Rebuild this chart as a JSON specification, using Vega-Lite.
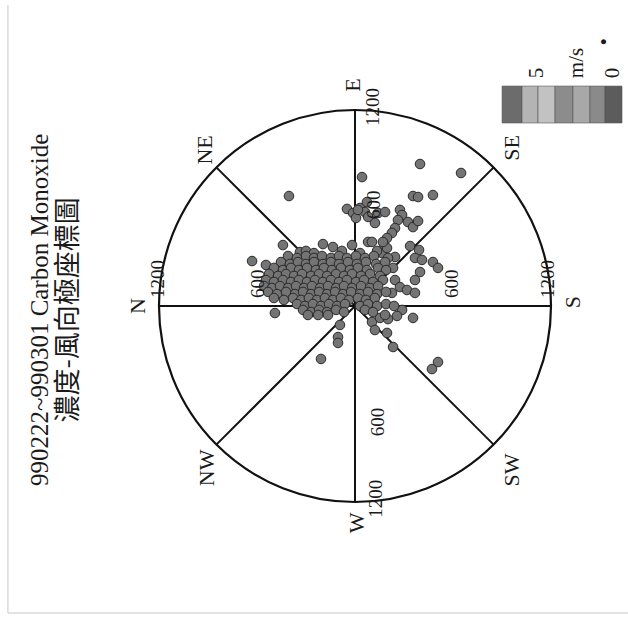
{
  "$schema": "https://vega.github.io/schema/vega-lite/v6.json",
  "width": 628,
  "height": 625,
  "autosize": {"type": "none"},
  "padding": 0,
  "background": "white",
  "config": {"view": {"stroke": null}},
  "encoding": {
    "x": {"field": "s", "type": "quantitative", "axis": null, "scale": {"domain": [-2172.6, 1670.8], "nice": false, "zero": false}},
    "y": {"field": "e", "type": "quantitative", "axis": null, "scale": {"domain": [-1952.3, 1872.7], "nice": false, "zero": false}}
  },
  "layer": [
    {
      "data": {"values": [
        {"line": "left", "s": -2124, "e": 1842, "s2": -2124, "e2": -1879},
        {"line": "bottom", "s": -2124, "e": -1879, "s2": 1671, "e2": -1879}
      ]},
      "mark": {"type": "rule", "stroke": "#c8c8c8", "strokeWidth": 1},
      "encoding": {"x2": {"field": "s2"}, "y2": {"field": "e2"}}
    },
    {
      "data": {"values": [
        {"spoke": "N-S", "s": -1200, "e": 0, "s2": 1200, "e2": 0},
        {"spoke": "E-W", "s": 0, "e": 1200, "s2": 0, "e2": -1200},
        {"spoke": "NE-SW", "s": -848.5, "e": 848.5, "s2": 848.5, "e2": -848.5},
        {"spoke": "SE-NW", "s": 848.5, "e": 848.5, "s2": -848.5, "e2": -848.5}
      ]},
      "mark": {"type": "rule", "stroke": "#111", "strokeWidth": 2},
      "encoding": {"x2": {"field": "s2"}, "y2": {"field": "e2"}}
    },
    {
      "data": {"values": [{"ring": 1200, "s": 0, "e": 0}]},
      "mark": {"type": "point", "shape": "circle", "filled": false, "size": 153664, "stroke": "#111", "strokeWidth": 2.2, "opacity": 1}
    },
    {
      "data": {"values": [
        {"s":-404,"e":673},{"s":398,"e":869},{"s":43,"e":789},{"s":649,"e":814},{"s":355,"e":673},{"s":386,"e":667},{"s":477,"e":679},
        {"s":-49,"e":594},{"s":-12,"e":569},{"s":31,"e":600},{"s":73,"e":636},{"s":61,"e":575},{"s":6,"e":539},{"s":141,"e":569},
        {"s":184,"e":575},{"s":122,"e":508},{"s":80,"e":545},{"s":275,"e":588},{"s":288,"e":557},{"s":263,"e":526},{"s":245,"e":477},
        {"s":226,"e":447},{"s":196,"e":416},{"s":324,"e":514},{"s":355,"e":483},{"s":386,"e":520},{"s":80,"e":392},{"s":104,"e":392},
        {"s":171,"e":349},{"s":165,"e":324},{"s":245,"e":300},{"s":337,"e":367},{"s":392,"e":343},{"s":367,"e":294},{"s":410,"e":282},
        {"s":477,"e":269},{"s":508,"e":233},{"s":398,"e":208},{"s":367,"e":159},{"s":245,"e":159},{"s":233,"e":233},{"s":196,"e":355},
        {"s":171,"e":392},{"s":275,"e":116},{"s":318,"e":98},{"s":367,"e":80},{"s":226,"e":80},{"s":288,"e":-24},{"s":257,"e":-61},
        {"s":355,"e":-73},{"s":104,"e":-98},{"s":153,"e":-73},{"s":202,"e":-80},{"s":122,"e":-147},{"s":196,"e":-165},{"s":233,"e":-251},
        {"s":184,"e":-55},{"s":-92,"e":-116},{"s":-104,"e":-190},{"s":-104,"e":-226},{"s":-208,"e":-324},{"s":508,"e":-343},{"s":471,"e":-386},
        {"s":-441,"e":373},{"s":-337,"e":330},{"s":-196,"e":379},{"s":-135,"e":361},{"s":-18,"e":373},{"s":-630,"e":275},{"s":-545,"e":251},
        {"s":-490,"e":-43},{"s":18,"e":588},{"s":-477,"e":141},{"s":-355,"e":202},
        {"s":-300,"e":337},{"s":-251,"e":324},{"s":-80,"e":337},{"s":31,"e":324},{"s":135,"e":337},
        {"s":-410,"e":306},{"s":-355,"e":294},{"s":-300,"e":306},{"s":-251,"e":294},{"s":-202,"e":306},{"s":-147,"e":294},{"s":-98,"e":306},
        {"s":-49,"e":294},{"s":6,"e":306},{"s":61,"e":294},{"s":116,"e":306},{"s":202,"e":294},
        {"s":-453,"e":269},{"s":-398,"e":257},{"s":-349,"e":269},{"s":-300,"e":257},{"s":-251,"e":269},{"s":-196,"e":257},{"s":-147,"e":269},
        {"s":-98,"e":257},{"s":-43,"e":269},{"s":12,"e":257},{"s":67,"e":269},{"s":129,"e":257},{"s":184,"e":269},
        {"s":-496,"e":233},{"s":-441,"e":220},{"s":-392,"e":233},{"s":-343,"e":220},{"s":-294,"e":233},{"s":-239,"e":220},{"s":-190,"e":233},
        {"s":-141,"e":220},{"s":-86,"e":233},{"s":-31,"e":220},{"s":18,"e":233},{"s":73,"e":220},{"s":141,"e":233},{"s":190,"e":220},
        {"s":-526,"e":196},{"s":-471,"e":184},{"s":-422,"e":196},{"s":-373,"e":184},{"s":-324,"e":196},{"s":-269,"e":184},{"s":-220,"e":196},
        {"s":-171,"e":184},{"s":-116,"e":196},{"s":-67,"e":184},{"s":-18,"e":196},{"s":37,"e":184},{"s":92,"e":196},{"s":153,"e":184},
        {"s":-545,"e":159},{"s":-496,"e":147},{"s":-441,"e":159},{"s":-392,"e":147},{"s":-343,"e":159},{"s":-294,"e":147},{"s":-245,"e":159},
        {"s":-196,"e":147},{"s":-147,"e":159},{"s":-98,"e":147},{"s":-49,"e":159},{"s":6,"e":147},{"s":55,"e":159},{"s":110,"e":147},{"s":171,"e":159},
        {"s":-557,"e":122},{"s":-508,"e":110},{"s":-459,"e":122},{"s":-410,"e":110},{"s":-361,"e":122},{"s":-312,"e":110},{"s":-263,"e":122},
        {"s":-214,"e":110},{"s":-165,"e":122},{"s":-116,"e":110},{"s":-67,"e":122},{"s":-18,"e":110},{"s":37,"e":122},{"s":92,"e":110},{"s":141,"e":122},
        {"s":-532,"e":86},{"s":-477,"e":73},{"s":-422,"e":86},{"s":-367,"e":73},{"s":-318,"e":86},{"s":-269,"e":73},{"s":-220,"e":86},
        {"s":-171,"e":73},{"s":-122,"e":86},{"s":-73,"e":73},{"s":-24,"e":86},{"s":31,"e":73},{"s":80,"e":86},{"s":135,"e":73},{"s":190,"e":86},
        {"s":-496,"e":49},{"s":-435,"e":37},{"s":-379,"e":49},{"s":-330,"e":37},{"s":-282,"e":49},{"s":-233,"e":37},{"s":-184,"e":49},
        {"s":-135,"e":37},{"s":-86,"e":49},{"s":-37,"e":37},{"s":18,"e":49},{"s":67,"e":37},{"s":122,"e":49},
        {"s":-355,"e":12},{"s":-306,"e":0},{"s":-257,"e":12},{"s":-208,"e":0},{"s":-159,"e":12},{"s":-110,"e":0},{"s":-61,"e":12},
        {"s":31,"e":0},{"s":80,"e":12},{"s":135,"e":0},{"s":190,"e":12},{"s":239,"e":0},
        {"s":-318,"e":-24},{"s":-269,"e":-37},{"s":-220,"e":-24},{"s":-171,"e":-37},{"s":-116,"e":-24},{"s":-67,"e":-37},{"s":61,"e":-24},{"s":110,"e":-37},
        {"s":-288,"e":-55},{"s":-226,"e":-55},{"s":-165,"e":-55}
      ]},
      "mark": {"type": "point", "shape": "circle", "filled": true, "size": 92, "fill": "#747474", "stroke": "#2a2a2a", "strokeWidth": 1, "opacity": 1}
    },
    {
      "data": {"values": [
        {"speed": 6, "s": 900, "e": 1346, "s2": 1022, "e2": 1120},
        {"speed": 5, "s": 1022, "e": 1346, "s2": 1120, "e2": 1120},
        {"speed": 4, "s": 1120, "e": 1346, "s2": 1224, "e2": 1120},
        {"speed": 3, "s": 1224, "e": 1346, "s2": 1334, "e2": 1120},
        {"speed": 2, "s": 1334, "e": 1346, "s2": 1438, "e2": 1120},
        {"speed": 1, "s": 1438, "e": 1346, "s2": 1530, "e2": 1120},
        {"speed": 0, "s": 1530, "e": 1346, "s2": 1634, "e2": 1120}
      ]},
      "mark": {"type": "rect", "stroke": "#555", "strokeWidth": 0.6},
      "encoding": {
        "x2": {"field": "s2"}, "y2": {"field": "e2"},
        "color": {"field": "speed", "type": "ordinal", "legend": null,
          "scale": {"domain": [6, 5, 4, 3, 2, 1, 0], "range": ["#6c6c6c", "#b4b4b4", "#c2c2c2", "#8c8c8c", "#a8a8a8", "#8a8a8a", "#5c5c5c"]}}
      }
    },
    {
      "data": {"values": [
        {"label": "5", "s": 1114, "e": 1426},
        {"label": "m/s", "s": 1359, "e": 1487},
        {"label": "0", "s": 1579, "e": 1426},
        {"label": "•", "s": 1530, "e": 1616}
      ]},
      "mark": {"type": "text", "angle": 270, "align": "center", "baseline": "middle", "font": "Liberation Serif", "fontSize": 21, "fill": "#1a1a1a"},
      "encoding": {"text": {"field": "label"}}
    },
    {
      "data": {"values": [
        {"label": "N", "s": -1328, "e": 0},
        {"label": "E", "s": -12, "e": 1352},
        {"label": "S", "s": 1334, "e": 24},
        {"label": "W", "s": 12, "e": -1328},
        {"label": "NE", "s": -918, "e": 955},
        {"label": "SE", "s": 961, "e": 967},
        {"label": "SW", "s": 961, "e": -1004},
        {"label": "NW", "s": -906, "e": -991}
      ]},
      "mark": {"type": "text", "angle": 270, "align": "center", "baseline": "middle", "font": "Liberation Serif", "fontSize": 22, "fill": "#1a1a1a"},
      "encoding": {"text": {"field": "label"}}
    },
    {
      "data": {"values": [
        {"label": "1200", "s": -1205, "e": 49},
        {"label": "600", "s": -594, "e": 49},
        {"label": "600", "s": 594, "e": 49},
        {"label": "1200", "s": 1181, "e": 49}
      ]},
      "mark": {"type": "text", "angle": 270, "align": "left", "baseline": "middle", "font": "Liberation Serif", "fontSize": 19, "fill": "#1a1a1a"},
      "encoding": {"text": {"field": "label"}}
    },
    {
      "data": {"values": [
        {"label": "1200", "s": 110, "e": 1218},
        {"label": "600", "s": 116, "e": 620},
        {"label": "600", "s": 141, "e": -710},
        {"label": "1200", "s": 128, "e": -1180}
      ]},
      "mark": {"type": "text", "angle": 270, "align": "center", "baseline": "middle", "font": "Liberation Serif", "fontSize": 19, "fill": "#1a1a1a"},
      "encoding": {"text": {"field": "label"}}
    },
    {
      "data": {"values": [{"label": "990222~990301 Carbon Monoxide", "s": -1928, "e": -24}]},
      "mark": {"type": "text", "angle": 270, "align": "center", "baseline": "middle", "font": "Liberation Serif", "fontSize": 25, "fill": "#1a1a1a"},
      "encoding": {"text": {"field": "label"}}
    },
    {
      "data": {"values": [{"label": "濃度-風向極座標圖", "s": -1750, "e": -24}]},
      "mark": {"type": "text", "angle": 270, "align": "center", "baseline": "middle", "font": "Noto Sans CJK TC", "fontSize": 27, "fill": "#1a1a1a"},
      "encoding": {"text": {"field": "label"}}
    }
  ]
}
